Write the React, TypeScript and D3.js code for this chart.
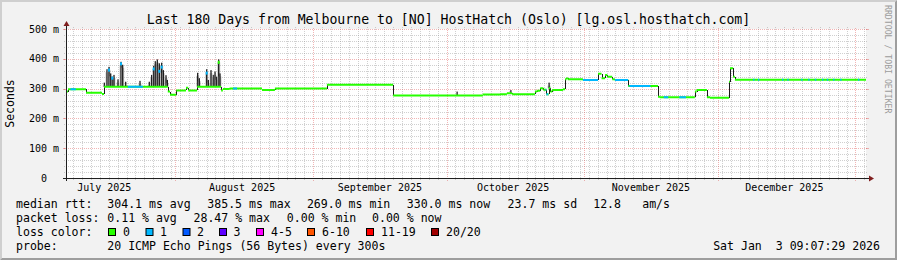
import React, { useEffect } from "react";
import * as d3 from "d3";

const WIDTH = 897;
const HEIGHT = 260;
const START = Date.UTC(2025, 6, 7, 9, 7, 29);
const END = Date.UTC(2026, 0, 3, 9, 7, 29);
const DAY_MS = 86400000;

const titleText = "Last 180 Days from Melbourne to [NO] HostHatch (Oslo) [lg.osl.hosthatch.com]";
const yAxisTitle = "Seconds";
const watermark = "RRDTOOL / TOBI OETIKER";
const yTickValues = [0, 100, 200, 300, 400, 500];
const yTickLabels = ["0", "100 m", "200 m", "300 m", "400 m", "500 m"];
const monthLabels = ["July 2025", "August 2025", "September 2025", "October 2025", "November 2025", "December 2025"];

// median rtt as steps: days since start -> ms
const rttDays = [
  0, 0.45, 4.5, 8.1, 8.55, 22.9, 23.4, 24.8, 27.0, 27.5, 29.5, 34.9, 35.3, 36.8, 44.1, 47.0, 58.7, 73.6,
  93.8, 97.7, 99.2, 100.4, 105.5, 106.0, 106.7, 107.4, 108.1, 108.6, 109.0, 109.4, 111.8, 112.3, 112.6,
  112.9, 116.3, 119.7, 120.5, 121.3, 121.8, 122.9, 123.5, 126.5, 133.2, 133.6, 141.5, 141.9, 144.2, 144.9,
  149.2, 149.4, 150.1, 150.5,
];
const rttValues = [
  290, 298, 286, 282, 306, 290, 279, 294, 303, 294, 306, 294, 299, 300, 295, 300, 313, 277,
  280, 281, 284, 281, 290, 293, 301, 296, 281, 301, 290, 295, 298, 331, 335,
  331, 329, 350, 335, 346, 340, 331, 329, 309, 273, 271, 290, 295, 271, 269,
  323, 368, 340, 330,
];

// periods with 1 lost ping (light blue median)
const lossStartDays = [1.0, 13.9, 37.6, 107.9, 116.3, 123.5, 126.8, 134.5, 138.0, 154.6, 155.7, 161.1, 162.3, 165.4, 167.0, 168.5, 170.1, 171.2, 172.6, 174.2, 178.2];
const lossEndDays = [2.2, 17.3, 38.5, 108.5, 119.7, 126.5, 131.5, 135.5, 139.5, 154.9, 156.0, 161.4, 162.6, 165.7, 167.3, 168.8, 170.4, 171.5, 172.9, 174.5, 178.5];

// smoke spikes: days since start -> top of the ping spread (ms)
const spikeDays = [
  8.62, 9.23, 9.68, 10.06, 10.42, 10.8, 11.7, 12.38, 12.76, 13.43, 16.65, 18.74, 19.28, 19.73, 20.09,
  20.54, 20.99, 21.53, 21.9, 22.5, 22.8, 29.63, 29.99, 31.66, 32.02, 32.63, 33.15, 33.53, 33.91, 34.36,
  34.65, 88.0, 100.1, 108.7,
];
const spikeTops = [
  320, 365, 373, 351, 340, 346, 331, 390, 380, 323, 326, 323, 346, 376, 392,
  398, 385, 387, 362, 345, 329, 353, 335, 365, 329, 362, 346, 357, 340, 398,
  351, 290, 295, 320,
];

// high medians sitting on the spikes: day, ms, loss bucket
const spikeMedianDays = [9.68, 10.42, 12.38, 19.73, 20.99, 21.53, 34.36, 31.66];
const spikeMedianValues = [362, 335, 383, 366, 358, 372, 388, 352];
const spikeMedianLoss = [1, 1, 1, 1, 1, 1, 0, 1];

const lossLabels = ["0", "1", "2", "3", "4-5", "6-10", "11-19", "20/20"];
const lossColors = ["#26ff00", "#00b8ff", "#0059ff", "#5e00ff", "#ff00ff", "#ff5500", "#ff0000", "#a00000"];
const lossBoxX = [108, 145.5, 182.5, 219, 256, 307, 366, 431];
const lossLabelX = [123, 160, 197, 233.5, 271, 322, 381, 446];

const rttLegend = [
  { x: 16, t: "median rtt:" },
  { x: 107.3, t: "304.1 ms avg" },
  { x: 207.3, t: "385.5 ms max" },
  { x: 306.9, t: "269.0 ms min" },
  { x: 406.8, t: "330.0 ms now" },
  { x: 507.6, t: "23.7 ms sd" },
  { x: 593.2, t: "12.8" },
  { x: 642.2, t: "am/s" },
];
const lossLegend = [
  { x: 16, t: "packet loss:" },
  { x: 107.3, t: "0.11 % avg" },
  { x: 193.5, t: "28.47 % max" },
  { x: 286.8, t: "0.00 % min" },
  { x: 372.0, t: "0.00 % now" },
];
const probeText = "20 ICMP Echo Pings (56 Bytes) every 300s";
const dateText = "Sat Jan  3 09:07:29 2026";

const MONO = "'DejaVu Sans Mono', monospace";
const PRE = { whiteSpace: "pre" as const };

export default function App() {
  useEffect(() => {
    document.body.style.margin = "0";
  }, []);

  const X0 = 66, X1 = 866, Y0 = 178, Y1 = 29;
  const x = d3.scaleUtc().domain([new Date(START), new Date(END)]).range([X0, X1]);
  const y = d3.scaleLinear().domain([0, 500]).range([Y0, Y1]);
  const dx = (d: number) => x(new Date(START + d * DAY_MS));
  const px = (v: number) => Math.round(v) + 0.5;

  const majors = d3.utcMonth.range(new Date(START), new Date(END));
  const majorSet = new Set(majors.map((d) => d.getTime()));
  const minors = d3.utcDay
    .range(new Date(Date.UTC(2025, 6, 9)), new Date(END), 2)
    .filter((d) => !majorSet.has(d.getTime()));
  const labelMonths = d3.utcMonth.range(new Date(Date.UTC(2025, 6, 1)), new Date(Date.UTC(2026, 0, 1)));

  const yMinor = d3.range(20, 500, 20).filter((v) => v % 100 !== 0);
  const yMajor = yTickValues.filter((v) => v > 0);

  const bis = d3.bisector((d: number) => d).right;
  const medianAt = (day: number) => rttValues[Math.max(0, bis(rttDays, day) - 1)];

  let hPath = "";
  let vPath = "";
  rttDays.forEach((d, i) => {
    const xa = dx(d);
    const xb = i < rttDays.length - 1 ? dx(rttDays[i + 1]) : X1;
    const yy = y(rttValues[i]);
    hPath += `M${xa},${yy}H${xb}`;
    if (i < rttDays.length - 1) {
      vPath += `M${Math.round(xb) + 0.5},${yy}V${y(rttValues[i + 1])}`;
    }
  });

  const gridGray = "rgba(143,143,143,0.42)";
  const gridRed = "rgba(222,79,79,0.42)";

  return (
    <svg
      width={WIDTH}
      height={HEIGHT}
      style={{ position: "absolute", left: 0, top: 0, display: "block" }}
      xmlns="http://www.w3.org/2000/svg"
    >
      <rect x={0} y={0} width={WIDTH} height={HEIGHT} fill="#f2f2f2" />
      <polygon points={`0,${HEIGHT} 2,${HEIGHT - 2} 2,2 ${WIDTH - 2},2 ${WIDTH},0 0,0`} fill="#cfcfcf" />
      <polygon points={`2,${HEIGHT - 2} ${WIDTH - 2},${HEIGHT - 2} ${WIDTH - 2},2 ${WIDTH},0 ${WIDTH},${HEIGHT} 0,${HEIGHT}`} fill="#9e9e9e" />

      <text x={WIDTH / 2} y={24} textAnchor="middle" fontFamily={MONO} fontSize={13.2} fill="#000" style={PRE}>
        {titleText}
      </text>

      <rect x={X0} y={Y1} width={X1 - X0} height={Y0 - Y1} fill="#ffffff" />

      {/* grid */}
      <g shapeRendering="crispEdges">
        {yMinor.map((v) => (
          <line key={"ym" + v} x1={X0 - 2} x2={X1 + 2} y1={px(y(v))} y2={px(y(v))} stroke={gridGray} strokeDasharray="1,1" />
        ))}
        {minors.map((d) => (
          <line key={"xm" + d.getTime()} x1={px(x(d))} x2={px(x(d))} y1={Y0 + 2} y2={Y1 - 2} stroke={gridGray} strokeDasharray="1,1" />
        ))}
        {yMajor.map((v) => (
          <g key={"yM" + v}>
            <line x1={X0 - 2} x2={X1 + 2} y1={px(y(v))} y2={px(y(v))} stroke={gridRed} strokeDasharray="1,1" />
            <line x1={X0 - 3} x2={X0} y1={px(y(v))} y2={px(y(v))} stroke={gridRed} />
            <line x1={X1} x2={X1 + 3} y1={px(y(v))} y2={px(y(v))} stroke={gridRed} />
          </g>
        ))}
        {majors.map((d) => (
          <line key={"xM" + d.getTime()} x1={px(x(d))} x2={px(x(d))} y1={Y0 + 3} y2={Y1 - 2} stroke={gridRed} strokeDasharray="1,1" />
        ))}
      </g>

      {/* smoke spikes */}
      <g>
        {spikeDays.map((d, i) => {
          const base = medianAt(d);
          return (
            <g key={"sp" + i}>
              <rect x={dx(d) - 1.5} width={3} y={y(spikeTops[i]) + 3} height={Math.max(0, y(base) - y(spikeTops[i]) - 3)} fill="#a0a0a0" opacity={0.55} />
              <rect x={dx(d) - 0.6} width={1.2} y={y(spikeTops[i])} height={y(base) - y(spikeTops[i])} fill="#111" />
            </g>
          );
        })}
        {spikeMedianDays.map((d, i) => (
          <rect
            key={"sm" + i}
            x={dx(d) - 1}
            width={2}
            y={y(spikeMedianValues[i]) - 1.5}
            height={3}
            fill={lossColors[spikeMedianLoss[i]]}
          />
        ))}
      </g>

      {/* median */}
      <defs>
        <clipPath id="lossClip">
          {lossStartDays.map((d, i) => (
            <rect key={"lc" + i} x={dx(d)} width={dx(lossEndDays[i]) - dx(d)} y={0} height={HEIGHT} />
          ))}
        </clipPath>
      </defs>
      <path d={vPath} stroke="#1a1a1a" strokeWidth={1} fill="none" shapeRendering="crispEdges" />
      <path d={hPath} stroke={lossColors[0]} strokeWidth={2} fill="none" />
      <path d={hPath} stroke={lossColors[1]} strokeWidth={2} fill="none" clipPath="url(#lossClip)" />

      {/* axes */}
      <g shapeRendering="crispEdges">
        <line x1={X0 - 3} x2={X1 + 4} y1={Y0 + 0.5} y2={Y0 + 0.5} stroke="#1f1f1f" />
        <line x1={X0 + 0.5} x2={X0 + 0.5} y1={Y0 + 3} y2={Y1 - 4} stroke="#1f1f1f" />
      </g>
      <polygon points={`${X1 + 3},${Y0 - 2.5} ${X1 + 8},${Y0 + 0.5} ${X1 + 3},${Y0 + 3.5}`} fill="#801f1f" />
      <polygon points={`${X0 - 2.5},${Y1 - 3} ${X0 + 0.5},${Y1 - 8} ${X0 + 3.5},${Y1 - 3}`} fill="#801f1f" />

      {/* y labels */}
      {yTickValues.map((v, i) => (
        <text
          key={"yl" + v}
          x={v === 0 ? 47 : 59}
          y={y(v) + 3.5}
          textAnchor="end"
          fontFamily={MONO}
          fontSize={10}
          fill="#000"
          style={PRE}
        >
          {yTickLabels[i]}
        </text>
      ))}
      <text
        transform={`translate(14,${(Y0 + Y1) / 2}) rotate(-90)`}
        textAnchor="middle"
        fontFamily={MONO}
        fontSize={11.5}
        fill="#000"
      >
        {yAxisTitle}
      </text>

      {/* x labels */}
      {labelMonths.map((m, i) => (
        <text
          key={"xl" + i}
          x={x(d3.utcDay.offset(m, 15))}
          y={191}
          textAnchor="middle"
          fontFamily={MONO}
          fontSize={10}
          fill="#000"
          style={PRE}
        >
          {monthLabels[i]}
        </text>
      ))}

      {/* watermark */}
      <text transform={`translate(885,5) rotate(90)`} fontFamily={MONO} fontSize={8.2} fill="#9c9c9c" style={PRE}>
        {watermark}
      </text>

      {/* legend */}
      <g fontFamily={MONO} fontSize={11.56} fill="#000">
        {rttLegend.map((l, i) => (
          <text key={"r" + i} x={l.x} y={208} style={PRE}>{l.t}</text>
        ))}
        {lossLegend.map((l, i) => (
          <text key={"l" + i} x={l.x} y={222} style={PRE}>{l.t}</text>
        ))}
        <text x={16} y={236} style={PRE}>loss color:</text>
        {lossLabels.map((lab, i) => (
          <g key={"lb" + i}>
            <rect x={lossBoxX[i] + 0.5} y={228.5} width={7} height={7} fill={lossColors[i]} stroke="#000" strokeWidth={1} />
            <text x={lossLabelX[i]} y={236} style={PRE}>{lab}</text>
          </g>
        ))}
        <text x={16} y={250} style={PRE}>probe:</text>
        <text x={107.3} y={250} style={PRE}>{probeText}</text>
        <text x={880} y={250} textAnchor="end" style={PRE}>{dateText}</text>
      </g>
    </svg>
  );
}
